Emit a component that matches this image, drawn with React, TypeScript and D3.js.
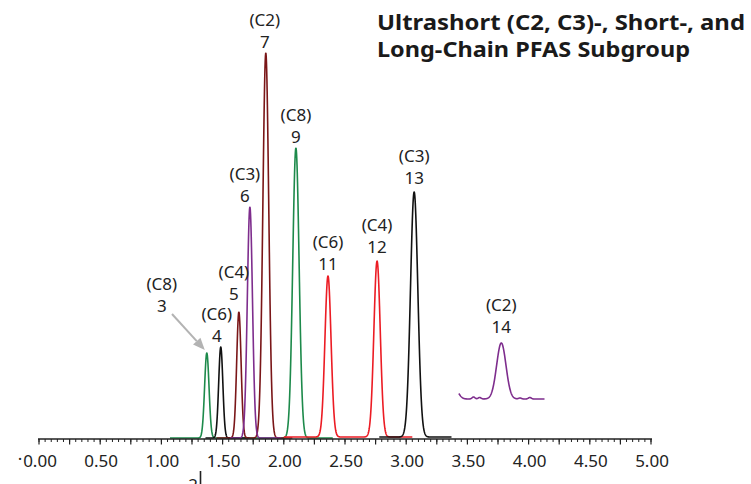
import React from 'react';
import * as d3 from 'd3';

// peaks (retention time in min, height above trace baseline)
const peakNumbers = [3, 4, 5, 6, 7, 9, 11, 12, 13, 14];
const peakChains = ['C8', 'C6', 'C4', 'C3', 'C2', 'C8', 'C6', 'C4', 'C3', 'C2'];
const retentionTimes = [1.371, 1.485, 1.633, 1.723, 1.853, 2.099, 2.361, 2.762, 3.065, 3.777];
const peakHeights = [85, 91, 126, 231, 385, 290, 161, 176, 245, 56];
const peakWidths = [0.018, 0.017, 0.018, 0.021, 0.024, 0.026, 0.025, 0.026, 0.03, 0.038];

// one entry per drawn trace
const traceColors = ['#1d8a4b', '#111111', '#7a1618', '#7e2d8d', '#ec1c24', '#111111', '#7e2d8d'];
const traceStart = [1.07, 1.36, 1.45, 1.56, 2.0, 2.78, 3.43];
const traceEnd = [2.4, 1.72, 2.07, 1.98, 3.05, 3.37, 4.13];
const traceBaseline = [1, 1, 1, 1, 2, 2, 40];
const tracePeaks = [[3, 9], [4], [5, 7], [6], [11, 12], [13], [14]];

// small ripples on the baseline of the peak 14 trace
const rippleTimes = [3.4, 3.55, 3.6, 3.93, 4.01];
const rippleHeights = [9, 2, 1.5, 1, 1.5];
const rippleWidths = [0.03, 0.012, 0.012, 0.012, 0.012];

const tickLabels = ['0.00', '0.50', '1.00', '1.50', '2.00', '2.50', '3.00', '3.50', '4.00', '4.50', '5.00'];

const titleLines = ['Ultrashort (C2, C3)-, Short-, and', 'Long-Chain PFAS Subgroup'];

// label nudges [dx, dy of number baseline from apex]
const labelShift: Record<number, [number, number]> = {
  3: [-45, -41],
  4: [-4, -5],
  5: [-5, -12],
  6: [-5, -5],
  7: [-1, -5],
  9: [0, -5],
  11: [0, -6],
  12: [0, -8],
  13: [0, -8],
  14: [0, -10],
};

const W = 751;
const H = 484;

const App = () => {
  const x = d3.scaleLinear().domain([0, 5]).range([39, 651]);
  const y = d3.scaleLinear().domain([0, 400]).range([439, 39]);

  const gauss = (t: number, c: number, h: number, s: number) => h * Math.exp(-0.5 * ((t - c) / s) ** 2);

  const line = d3
    .line<[number, number]>()
    .x((d) => x(d[0]))
    .y((d) => y(d[1]))
    .curve(d3.curveLinear);

  const traces = traceColors.map((color, i) => {
    const pts: [number, number][] = [];
    const idx = tracePeaks[i].map((n) => peakNumbers.indexOf(n));
    for (let t = traceStart[i]; t <= traceEnd[i] + 1e-9; t += 0.002) {
      let v = traceBaseline[i];
      idx.forEach((k) => {
        v += gauss(t, retentionTimes[k], peakHeights[k], peakWidths[k]);
      });
      if (i === traceColors.length - 1) {
        rippleTimes.forEach((rt, r) => {
          v += gauss(t, rt, rippleHeights[r], rippleWidths[r]);
        });
      }
      pts.push([t, v]);
    }
    return { color, d: line(pts) };
  });

  // baseline of the trace each peak sits on
  const peakBase = (n: number) => traceBaseline[tracePeaks.findIndex((p) => p.includes(n))];

  const minorTicks = d3.range(0, 5.0001, 0.05);
  const majorTicks = d3.range(0, 5.0001, 0.25);

  const labelFont = "'Noto Sans', sans-serif";

  // arrow for peak 3
  const i3 = peakNumbers.indexOf(3);
  const ax2 = x(retentionTimes[i3]) - 2;
  const ay2 = y(peakHeights[i3] + peakBase(3)) - 3;
  const ax1 = 172;
  const ay1 = 314;
  const ang = Math.atan2(ay2 - ay1, ax2 - ax1);
  const hl = 12;
  const hw = 5;
  const bx = ax2 - hl * Math.cos(ang);
  const by = ay2 - hl * Math.sin(ang);

  return (
    <svg width={W} height={H} style={{ position: 'absolute', left: 0, top: 0, background: '#fff' }}>
      {/* title */}
      {titleLines.map((t, i) => (
        <text
          key={t}
          x={377}
          y={30 + i * 27}
          fontFamily={labelFont}
          fontWeight={700}
          fontSize={22}
          fill="#1a1a1a"
          textLength={i === 0 ? 368 : 313}
          lengthAdjust="spacingAndGlyphs"
        >
          {t}
        </text>
      ))}

      {/* traces */}
      {traces.map((tr, i) => (
        <path key={i} d={tr.d || ''} fill="none" stroke={tr.color} strokeWidth={1.6} strokeLinejoin="round" />
      ))}

      {/* axis */}
      <line x1={x(0) - 1} x2={x(5) + 1} y1={439} y2={439} stroke="#222" strokeWidth={1.4} />
      {minorTicks.map((t) => (
        <line key={'m' + t} x1={x(t)} x2={x(t)} y1={439} y2={442} stroke="#222" strokeWidth={1} />
      ))}
      {majorTicks.map((t) => (
        <line key={'M' + t} x1={x(t)} x2={x(t)} y1={439} y2={444.5} stroke="#222" strokeWidth={1.2} />
      ))}
      {tickLabels.map((lab) => (
        <text
          key={lab}
          x={x(+lab) + 1}
          y={467}
          textAnchor="middle"
          fontFamily={labelFont}
          fontSize={17}
          fill="#222"
        >
          {lab}
        </text>
      ))}
      <text x={20} y={465} textAnchor="middle" fontFamily={labelFont} fontSize={17} fill="#222">
        ·
      </text>
      <text x={193} y={491} textAnchor="middle" fontFamily={labelFont} fontSize={17} fill="#222">
        2
      </text>
      <line x1={200.5} x2={200.5} y1={471} y2={484} stroke="#222" strokeWidth={1.6} />

      {/* arrow for peak 3 */}
      <line x1={ax1} y1={ay1} x2={bx} y2={by} stroke="#b3b3b3" strokeWidth={2} />
      <polygon
        points={`${ax2},${ay2} ${bx - hw * Math.sin(ang)},${by + hw * Math.cos(ang)} ${bx + hw * Math.sin(ang)},${by - hw * Math.cos(ang)}`}
        fill="#b3b3b3"
      />

      {/* peak labels */}
      {peakNumbers.map((n, k) => {
        const [dx, dy] = labelShift[n];
        const px = x(retentionTimes[k]) + dx;
        const py = y(peakHeights[k] + peakBase(n)) + dy;
        return (
          <g key={n} fontFamily={labelFont} fontSize={17} fill="#222" textAnchor="middle">
            <text x={px} y={py - 22}>{`(${peakChains[k]})`}</text>
            <text x={px} y={py}>{n}</text>
          </g>
        );
      })}
    </svg>
  );
};

export default App;
